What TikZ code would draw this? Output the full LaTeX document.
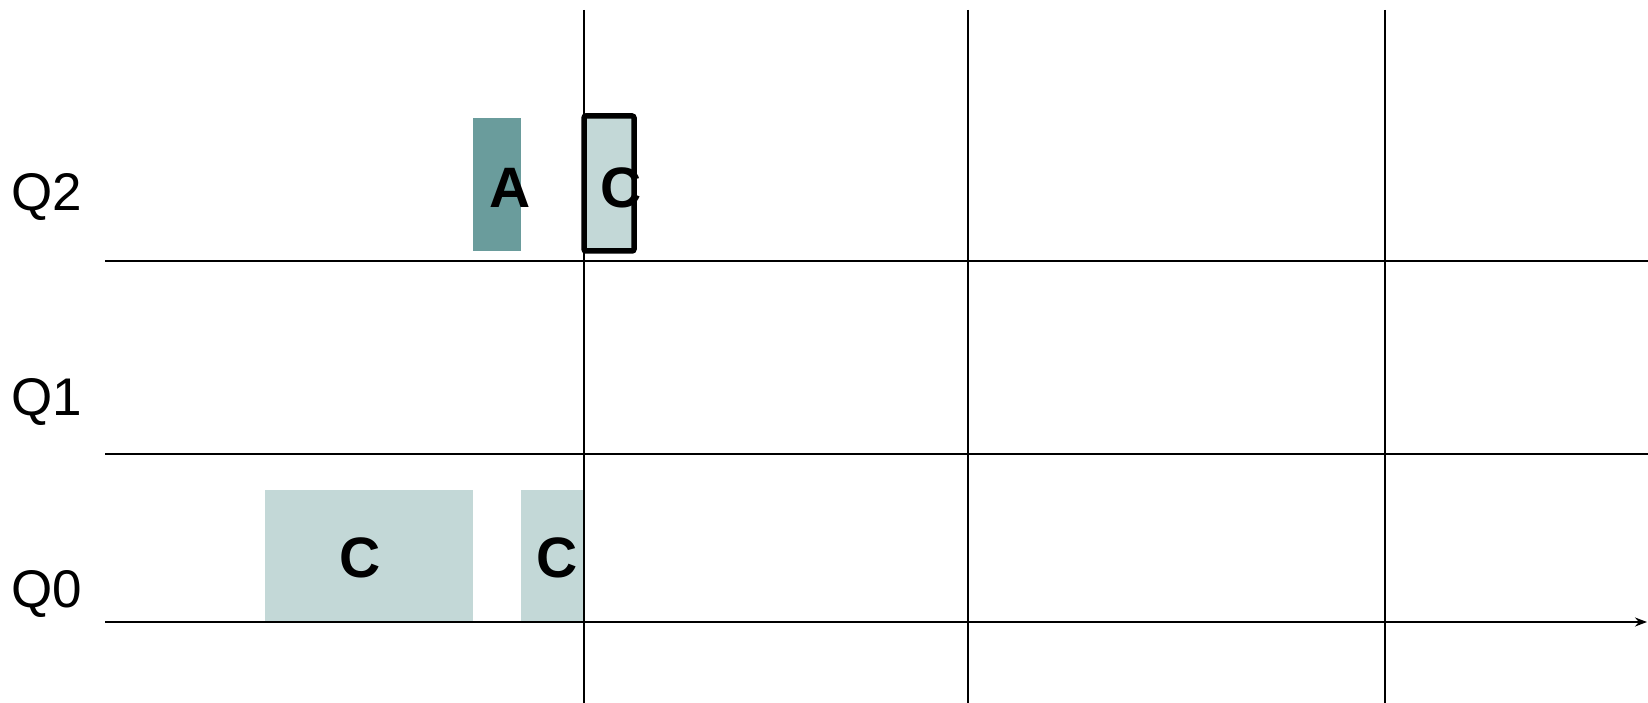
\documentclass[tikz,border=0pt]{standalone}
\usepackage{fontspec}
\setmainfont{Liberation Sans}
\usetikzlibrary{arrows.meta}
\definecolor{dark}{HTML}{6A9C9C}
\definecolor{light}{HTML}{C3D8D7}
\tikzset{
  grid/.style={line width=2pt, black},
  qlabel/.style={font=\fontsize{53}{53}\selectfont, anchor=center, inner sep=0pt},
  blk/.style={font=\fontsize{57}{57}\selectfont\bfseries, inner sep=0pt, anchor=center},
}
\begin{document}
\begin{tikzpicture}[x=1pt,y=-1pt]
\useasboundingbox (0,0) rectangle (1648,703);
% boxes
\fill[dark] (473,118) rectangle (521,251);
\fill[light] (265,490) rectangle (473,623);
\fill[light] (521,490) rectangle (584,623);
\fill[light] (584,116) rectangle (634,251);
% grid
\coordinate (v1t) at (584,10); \coordinate (v1b) at (584,703);
\coordinate (v2t) at (968,10); \coordinate (v2b) at (968,703);
\coordinate (v3t) at (1385,10); \coordinate (v3b) at (1385,703);
\coordinate (h2l) at (105,261); \coordinate (h2r) at (1648,261);
\coordinate (h1l) at (105,454); \coordinate (h1r) at (1648,454);
\coordinate (h0l) at (105,622); \coordinate (h0r) at (1647,622);
\draw[grid] (v1t) -- (v1b);
\draw[grid] (v2t) -- (v2b);
\draw[grid] (v3t) -- (v3b);
\draw[grid] (h2l) -- (h2r);
\draw[grid] (h1l) -- (h1r);
\draw[grid,-{Stealth[length=12pt,width=9pt]}] (h0l) -- (h0r);
% outlined box
\draw[line width=5.5pt, rounded corners=2pt] (584,116) rectangle (634,251);
% labels
\node[qlabel] (q2) at (47,197) {Q2};
\node[qlabel] (q1) at (47,402) {Q1};
\node[qlabel] (q0) at (47,594) {Q0};
\node[blk] (a) at (510,188) {A};
\node[blk] (c2) at (621,188) {C};
\node[blk] (c0a) at (360,558) {C};
\node[blk] (c0b) at (557,558) {C};
\end{tikzpicture}
\end{document}
